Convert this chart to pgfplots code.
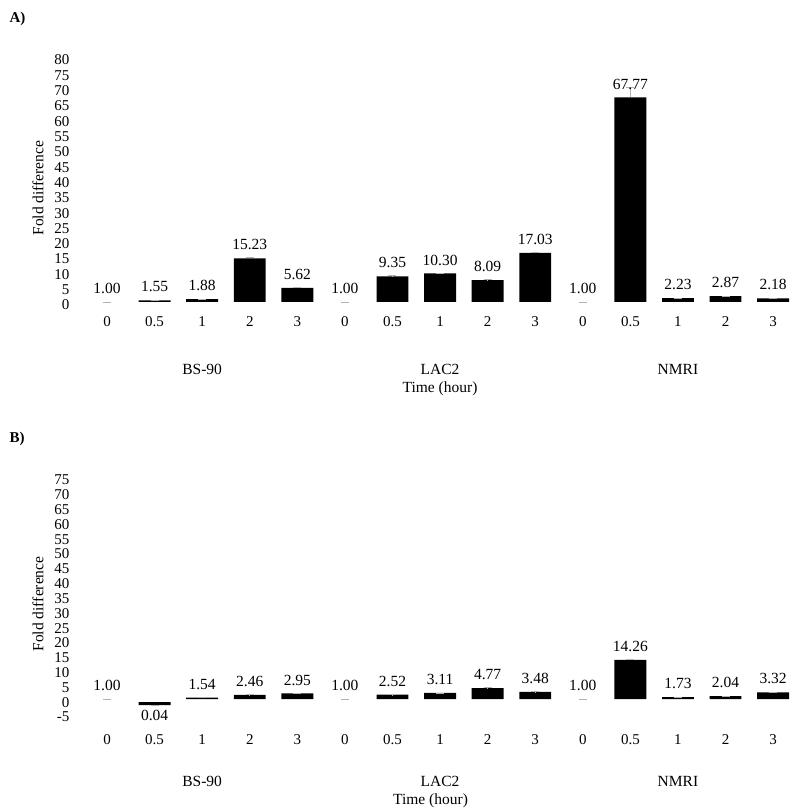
\documentclass[border=0pt]{standalone}
\usepackage{fontspec}
\setmainfont{Liberation Serif}
\usepackage{pgfplots}
\usepackage{pgfplotstable}
\pgfplotsset{compat=1.18}

\pgfplotstableread{
x v err
0 1.00 0
1 1.55 0.1
2 1.88 0.1
3 15.23 0.4
4 5.62 0.2
5 1.00 0
6 9.35 0.2
7 10.30 0.2
8 8.09 0.2
9 17.03 0.3
10 1.00 0
11 67.77 3.3
12 2.23 0.1
13 2.87 0.1
14 2.18 0.1
}\dataA

\pgfplotstableread{
x v err
0 1.00 0
1 0.04 0
2 1.54 0.05
3 2.46 0.05
4 2.95 0.05
5 1.00 0
6 2.52 0.05
7 3.11 0.05
8 4.77 0.1
9 3.48 0.05
10 1.00 0
11 14.26 0.2
12 1.73 0.05
13 2.04 0.05
14 3.32 0.05
}\dataB

\pgfplotsset{
  geomA/.style={scale only axis, width=715pt, xmin=-0.568, xmax=14.46, clip=false,
    at={(80pt,-305pt)}, anchor=south west, height=245pt, ymin=0, ymax=80},
  geomB/.style={scale only axis, width=715pt, xmin=-0.568, xmax=14.46, clip=false,
    at={(80pt,-717pt)}, anchor=south west, height=237pt, ymin=-5, ymax=75},
  panel/.style={
    axis line style={draw=none},
    major tick style={draw=none},
    major tick length=0pt,
    ybar stacked,
    bar width=0.67,
    xtick={0,...,14},
    xticklabels={0,0.5,1,2,3,0,0.5,1,2,3,0,0.5,1,2,3},
    /pgf/number format/assume math mode=true,
    tick label style={font=\fontsize{15}{17}\selectfont},
    yticklabel style={anchor=east, xshift=-7pt},
    xticklabel style={anchor=center},
    ylabel={Fold difference},
    every axis y label/.style={at={(axis description cs:-0.0587,0.477)}, rotate=90, anchor=center, font=\fontsize{15.5}{17}\selectfont},
    every axis x label/.style={anchor=north, font=\fontsize{15.5}{17}\selectfont},
  },
  basebar/.style={draw=none, fill=none, forget plot},
  valbar/.style={draw=none, fill=black,
    error bars/.cd, y dir=plus, y explicit,
      error bar style={gray!60, line width=0.6pt},
      error mark options={gray!60, mark size=4pt, rotate=90, line width=0.6pt}},
  labplot/.style={only marks, mark=none,
    point meta=explicit,
    nodes near coords={\pgfmathprintnumber[fixed, fixed zerofill, precision=2, assume math mode=true]{\pgfplotspointmeta}},
    every node near coord/.append style={font=\fontsize{15.5}{17}\selectfont, inner sep=8pt, black, anchor=#1},
  },
}

\begin{document}
\begin{tikzpicture}
\path[use as bounding box] (0,0) rectangle (795pt,-811pt);
\node[anchor=west, font=\bfseries\fontsize{15}{17}\selectfont] at (6pt,-19pt) {A)};
\node[anchor=west, font=\bfseries\fontsize{15}{17}\selectfont] at (6pt,-439pt) {B)};

% Panel A
\begin{axis}[geomA, panel,
  ytick={0,5,...,80},
  xticklabel style={yshift=-17pt},
  xlabel={Time (hour)},
  xlabel style={at={(axis cs:7,0)}, yshift=-73pt},
]
\addplot[basebar] table[x=x, y expr=1] {\dataA};
\addplot[valbar] table[x=x, y expr=\thisrow{v}-1, y error=err] {\dataA};
\node[font=\fontsize{15.5}{17}\selectfont] at (axis cs:2,0) [yshift=-64pt] {BS-90};
\node[font=\fontsize{15.5}{17}\selectfont] at (axis cs:7,0) [yshift=-64pt] {LAC2};
\node[font=\fontsize{15.5}{17}\selectfont] at (axis cs:12,0) [yshift=-64pt] {NMRI};
\end{axis}
\begin{axis}[geomA, hide axis, /pgf/number format/assume math mode=true]
\addplot[labplot=south] table[x=x, y=v, meta=v] {\dataA};
\end{axis}

% Panel B
\begin{axis}[geomB, panel,
  ytick={-5,0,5,...,75},
  xticklabel style={yshift=-23pt},
  xlabel={Time (hour)},
  xlabel style={at={(axis cs:6.8,-5)}, yshift=-73pt},
]
\addplot[basebar] table[x=x, y expr=1] {\dataB};
\addplot[valbar] table[x=x, y expr=\thisrow{v}-1, y error=err] {\dataB};
\node[font=\fontsize{15.5}{17}\selectfont] at (axis cs:2,-5) [yshift=-64pt] {BS-90};
\node[font=\fontsize{15.5}{17}\selectfont] at (axis cs:7,-5) [yshift=-64pt] {LAC2};
\node[font=\fontsize{15.5}{17}\selectfont] at (axis cs:12,-5) [yshift=-64pt] {NMRI};
\end{axis}
\begin{axis}[geomB, hide axis, /pgf/number format/assume math mode=true]
\addplot[labplot=south, restrict y to domain=0.99:100] table[x=x, y=v, meta=v] {\dataB};
\addplot[labplot=north, restrict y to domain=-10:0.99] table[x=x, y=v, meta=v] {\dataB};
\end{axis}
\end{tikzpicture}
\end{document}
